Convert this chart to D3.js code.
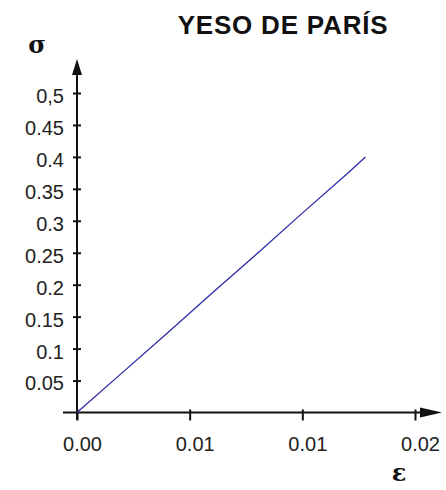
<!DOCTYPE html>
<html>
<head>
<meta charset="utf-8">
<script src="https://cdn.jsdelivr.net/npm/d3@7"></script>
<style>
  body { margin: 0; background: #fff; }
  svg { display: block; }
</style>
</head>
<body>
<div id="chart"></div>
<script>
// Data
const strain = [0, 0.002, 0.004, 0.006, 0.008, 0.010, 0.012, 0.0128];
const stress = [0, 0.062, 0.124, 0.187, 0.249, 0.312, 0.374, 0.400];

const xTicks = [0, 0.005, 0.010, 0.015];
const xLabels = ["0.00", "0.01", "0.01", "0.02"];
const yTicks = [0.05, 0.1, 0.15, 0.2, 0.25, 0.3, 0.35, 0.4, 0.45, 0.5];
const yLabels = ["0.05", "0.1", "0.15", "0.2", "0.25", "0.3", "0.35", "0.4", "0.45", "0,5"];

const title = "YESO DE PARÍS";

const width = 446, height = 490;

const svg = d3.select("#chart")
  .append("svg")
    .attr("width", width)
    .attr("height", height)
    .attr("viewBox", [0, 0, width, height]);

// Scales
const xScale = d3.scaleLinear()
  .domain([0, 0.015])
  .range([77, 415]);

const yScale = d3.scaleLinear()
  .domain([0, 0.5])
  .range([412.5, 93]);

const x0 = xScale(0), y0 = yScale(0);

// Axis lines with arrows
svg.append("line")
  .attr("x1", 63).attr("x2", 424)
  .attr("y1", y0).attr("y2", y0)
  .attr("stroke", "#111").attr("stroke-width", 2);

svg.append("path")
  .attr("d", `M420,${y0 - 5}L442,${y0}L420,${y0 + 5}Z`)
  .attr("fill", "#111");

svg.append("line")
  .attr("x1", x0).attr("x2", x0)
  .attr("y1", 420).attr("y2", 70)
  .attr("stroke", "#111").attr("stroke-width", 2);

svg.append("path")
  .attr("d", `M${x0 - 5},75L${x0},59L${x0 + 5},75Z`)
  .attr("fill", "#111");

// Y axis
const yAxis = d3.axisLeft(yScale)
  .tickValues(yTicks)
  .tickFormat((d, i) => yLabels[i])
  .tickSize(0)
  .tickPadding(13);

const yGroup = svg.append("g")
  .attr("transform", `translate(${x0}, 0)`)
  .call(yAxis);

yGroup.select(".domain").remove();
yGroup.selectAll(".tick line")
  .attr("x1", -4).attr("x2", 4)
  .attr("stroke", "#111").attr("stroke-width", 2);
yGroup.selectAll(".tick text")
  .attr("dy", "0.62em")
  .attr("y", -3)
  .style("font-family", "'Liberation Sans', Arial, sans-serif")
  .style("font-size", "20px")
  .style("fill", "#222");

// X axis
const xAxis = d3.axisBottom(xScale)
  .tickValues(xTicks)
  .tickFormat((d, i) => xLabels[i])
  .tickSize(0)
  .tickPadding(24);

const xGroup = svg.append("g")
  .attr("transform", `translate(0, ${y0})`)
  .call(xAxis);

xGroup.select(".domain").remove();
xGroup.selectAll(".tick line")
  .attr("y1", -3).attr("y2", 8)
  .attr("stroke", "#111").attr("stroke-width", 2);
xGroup.selectAll(".tick text")
  .attr("dx", 5)
  .style("font-family", "'Liberation Sans', Arial, sans-serif")
  .style("font-size", "20px")
  .style("fill", "#222");

// Line
const points = strain.map((s, i) => [s, stress[i]]);

const line = d3.line()
  .x(d => xScale(d[0]))
  .y(d => yScale(d[1]));

svg.append("path")
  .datum(points)
  .attr("d", line)
  .attr("fill", "none")
  .attr("stroke", "#2c2ca6")
  .attr("stroke-width", 1.3);

// Title and axis symbols
svg.append("text")
  .attr("x", 283)
  .attr("y", 34)
  .attr("text-anchor", "middle")
  .style("font-family", "'Liberation Sans', Arial, sans-serif")
  .style("font-weight", "bold")
  .style("font-size", "26px")
  .style("letter-spacing", "0.8px")
  .style("fill", "#111")
  .text(title);

svg.append("text")
  .attr("x", 37)
  .attr("y", 53)
  .attr("text-anchor", "middle")
  .style("font-family", "'DejaVu Serif', serif")
  .style("font-weight", "bold")
  .style("font-size", "24px")
  .style("fill", "#111")
  .text("σ");

svg.append("text")
  .attr("x", 399)
  .attr("y", 481)
  .attr("text-anchor", "middle")
  .style("font-family", "'DejaVu Serif', serif")
  .style("font-weight", "bold")
  .style("font-size", "24px")
  .style("fill", "#111")
  .text("ε");
</script>
</body>
</html>
